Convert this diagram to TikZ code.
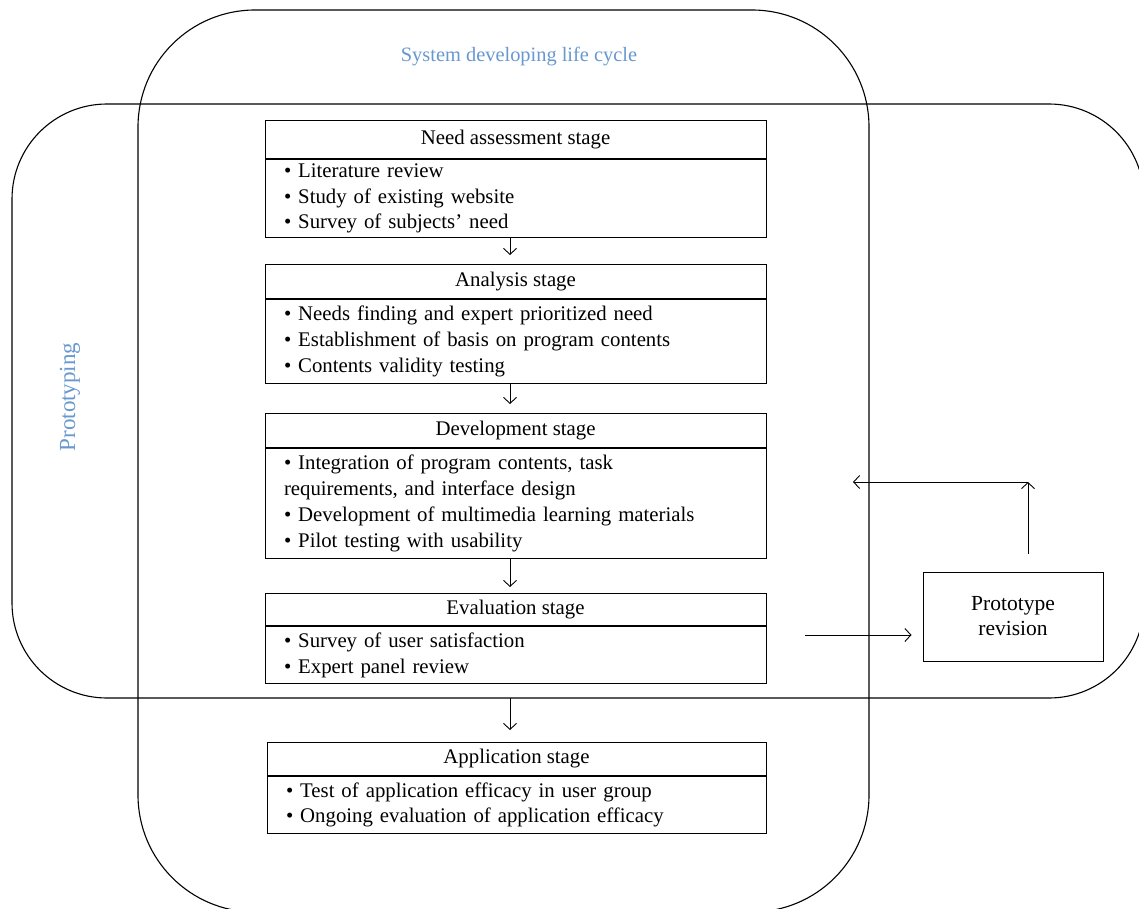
\documentclass[tikz,border=0pt]{standalone}
\usepackage{fontspec}
\setmainfont{Liberation Serif}
\usetikzlibrary{arrows.meta,calc}
\definecolor{lblue}{RGB}{104,152,208}
\begin{document}
\begin{tikzpicture}[x=1pt,y=-1pt,
  arr/.style={draw, line width=0.9pt, -{Straight Barb[length=6pt,width=13pt,line width=0.9pt]}},
  outline/.style={draw, line width=1.1pt},
  hdr/.style={draw, line width=1pt, anchor=north, minimum width=501pt, inner ysep=0pt,
     font=\fontsize{20.8}{25}\selectfont},
  bdy/.style={draw, line width=1pt, anchor=north, minimum width=501pt, text width=463pt,
     inner xsep=19pt, inner ysep=1pt, align=left, font=\fontsize{20.8}{25.8}\selectfont},
  lbl/.style={text=lblue, font=\fontsize{20.4}{24}\selectfont}
]
\useasboundingbox (0,0) rectangle (1139,909);
\clip (0,0) rectangle (1139,909);
\fill[white] (0,0) rectangle (1139,909);

% outer regions
\draw[outline, rounded corners=117pt] (138,10) rectangle (869,912);
\draw[outline, rounded corners=95pt] (12,104) rectangle (1144,698);

\node[lbl] (sdlc) at (519,57) {System developing life cycle};
\node[lbl, rotate=90, font=\fontsize{23}{24}\selectfont] (proto) at (70,397) {Prototyping};

% stages
\node[hdr, minimum height=38pt] (nh) at (515.5,120) {Need assessment stage};
\node[bdy, minimum height=78pt] (nb) at (nh.south) {• Literature review\\• Study of existing website\\• Survey of subjects’ need};

\node[hdr, minimum height=34pt] (ah) at (515.5,264) {Analysis stage};
\node[bdy, minimum height=84pt] (ab) at (ah.south) {• Needs finding and expert prioritized need\\• Establishment of basis on program contents\\• Contents validity testing};

\node[hdr, minimum height=34pt] (dh) at (515.5,413) {Development stage};
\node[bdy, minimum height=110pt] (db) at (dh.south) {• Integration of program contents, task\\requirements, and interface design\\• Development of multimedia learning materials\\• Pilot testing with usability};

\node[hdr, minimum height=32pt] (eh) at (515.5,593) {Evaluation stage};
\node[bdy, minimum height=57pt] (eb) at (eh.south) {• Survey of user satisfaction\\• Expert panel review};

\node[hdr, minimum height=33pt, minimum width=499pt] (ph) at (516.5,742) {Application stage};
\node[bdy, minimum height=57pt, minimum width=499pt, text width=461pt] (pb) at (ph.south) {• Test of application efficacy in user group\\• Ongoing evaluation of application efficacy};

\node[draw, line width=1pt, minimum width=180pt, minimum height=89pt, align=center,
  font=\fontsize{21.5}{25}\selectfont] (rev) at (1013,616.5) {Prototype\\revision};

% connector coordinates
\coordinate (ax) at (510,0);
\coordinate (pline) at (510,698);
\coordinate (evo) at (805,635);
\coordinate (c1) at (1028,482);
\coordinate (c2) at (853,482);

\draw[arr, shorten >=9pt] (nb.south -| ax) -- (ah.north -| ax);
\draw[arr, shorten >=9pt] (ab.south -| ax) -- (dh.north -| ax);
\draw[arr, shorten >=6pt] (db.south -| ax) -- (eh.north -| ax);
\draw[arr, shorten >=12pt] (pline) -- (ph.north -| ax);
\draw[arr, shorten >=11pt] (evo) -- (rev.west |- evo);
\draw[arr, shorten <=18pt] (rev.north -| c1) -- (c1);
\draw[arr] (c1) -- (c2);
\end{tikzpicture}
\end{document}
